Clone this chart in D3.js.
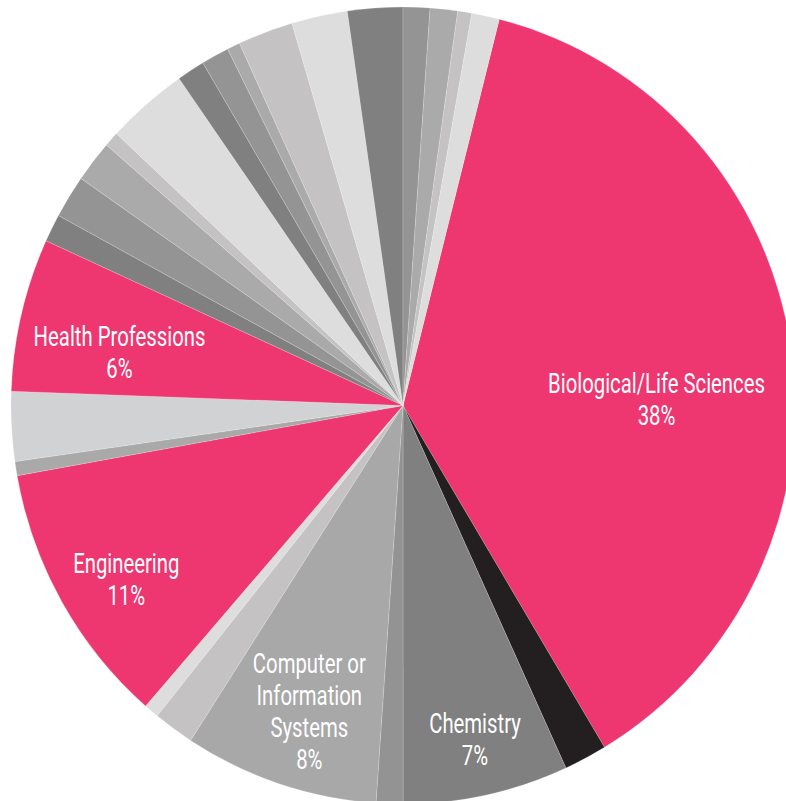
<!DOCTYPE html>
<html>
<head>
<meta charset="utf-8">
<script src="https://cdn.jsdelivr.net/npm/d3@7"></script>
<style>
  html, body { margin: 0; padding: 0; background: #ffffff; }
  svg { display: block; }
</style>
</head>
<body>
<svg id="chart" width="786" height="801"></svg>
<script>
// ---- Data (share of total, %) ----
const categories = [
  "Biological/Life Sciences", "Other A", "Chemistry", "Other B",
  "Computer or Information Systems", "Other C", "Other D", "Engineering",
  "Other E", "Other F", "Health Professions", "Other G", "Other H",
  "Other I", "Other J", "Other K", "Other L", "Other M", "Other N",
  "Other O", "Other P", "Other Q", "Other R", "Other S", "Other T", "Other U"
];
const values = [
  37.46, 1.77, 6.82, 1.10,
  8.02, 1.675, 0.61, 10.78,
  0.57, 2.82, 6.21, 1.13, 1.74,
  1.69, 0.61, 3.37, 1.15, 1.15, 0.53,
  2.28, 2.30, 2.27, 1.10, 1.13, 0.58, 1.14
];
const percentLabels = ["38%", "", "7%", "", "8%", "", "", "11%", "", "", "6%",
  "", "", "", "", "", "", "", "", "", "", "", "", "", "", ""];
const labelLines = {
  "Biological/Life Sciences": ["Biological/Life Sciences"],
  "Chemistry": ["Chemistry"],
  "Computer or Information Systems": ["Computer or", "Information", "Systems"],
  "Engineering": ["Engineering"],
  "Health Professions": ["Health Professions"]
};

// ---- Styles / layout ----
const PINK = "#ee3670";
const colors = [
  PINK, "#231f20", "#808080", "#939393",
  "#a8a8a8", "#c4c2c2", "#dedddd", PINK,
  "#a9a9a9", "#d1d2d4", PINK, "#808080", "#959495",
  "#aaaaaa", "#c4c2c2", "#dedddd", "#808080", "#959495", "#aaaaaa",
  "#c4c2c2", "#dedddd", "#808080", "#959495", "#aaaaaa", "#c4c2c2", "#dedddd"
];
const cx = 403, cy = 405.5;
const ry = 398.5, rx = 392;
const startDeg = 14.22;
// label anchor offsets (first line baseline, centre) relative to pie centre
const labelOffsets = {
  "Biological/Life Sciences": [253.5, -12.8],
  "Chemistry": [72, 327.8],
  "Computer or Information Systems": [-93.7, 267.8],
  "Engineering": [-276.7, 167.8],
  "Health Professions": [-283.5, -59.5]
};
const lineH = 32;
const fontSize = 28;

const svg = d3.select("#chart");
const g = svg.append("g").attr("transform", `translate(${cx},${cy}) scale(${rx / ry},1)`);

const data = categories.map((c, i) => ({ cat: c, value: values[i], color: colors[i], pct: percentLabels[i] }));

const pie = d3.pie()
  .sort(null)
  .value(d => d.value)
  .startAngle(startDeg * Math.PI / 180)
  .endAngle(startDeg * Math.PI / 180 + 2 * Math.PI);

const arc = d3.arc().innerRadius(0).outerRadius(ry);
const arcs = pie(data);

g.selectAll("path.slice")
  .data(arcs)
  .join("path")
  .attr("class", "slice")
  .attr("d", arc)
  .attr("fill", d => d.data.color)
  .attr("stroke", "#ffffff")
  .attr("stroke-opacity", 0.35)
  .attr("stroke-width", 0.5)
  .attr("vector-effect", "non-scaling-stroke");

// ---- Labels ----
const labelled = arcs.filter(d => labelLines[d.data.cat]);
const lg = svg.append("g").attr("class", "labels").attr("transform", `translate(${cx},${cy})`);
const texts = [];
labelled.forEach(d => {
  const lines = labelLines[d.data.cat].concat([d.data.pct]);
  const off = labelOffsets[d.data.cat];
  lines.forEach((ln, k) => {
    const t = lg.append("text")
      .attr("text-anchor", "middle")
      .attr("fill", "#ffffff")
      .attr("font-family", "Roboto, 'Liberation Sans Narrow', 'DejaVu Sans Condensed', sans-serif")
      .attr("font-size", fontSize)
      .attr("font-weight", 400)
      .text(ln);
    texts.push({ t, x: off[0], y: off[1] + k * lineH });
  });
});
// condense the font horizontally to match the narrow typeface
let refW = 0;
texts.forEach(o => { if (o.t.text() === "Biological/Life Sciences") refW = o.t.node().getComputedTextLength(); });
const sx = refW ? 217 / refW : 0.65;
texts.forEach(o => {
  o.t.attr("transform", `translate(${o.x},${o.y}) scale(${sx},1)`);
});
</script>
</body>
</html>
